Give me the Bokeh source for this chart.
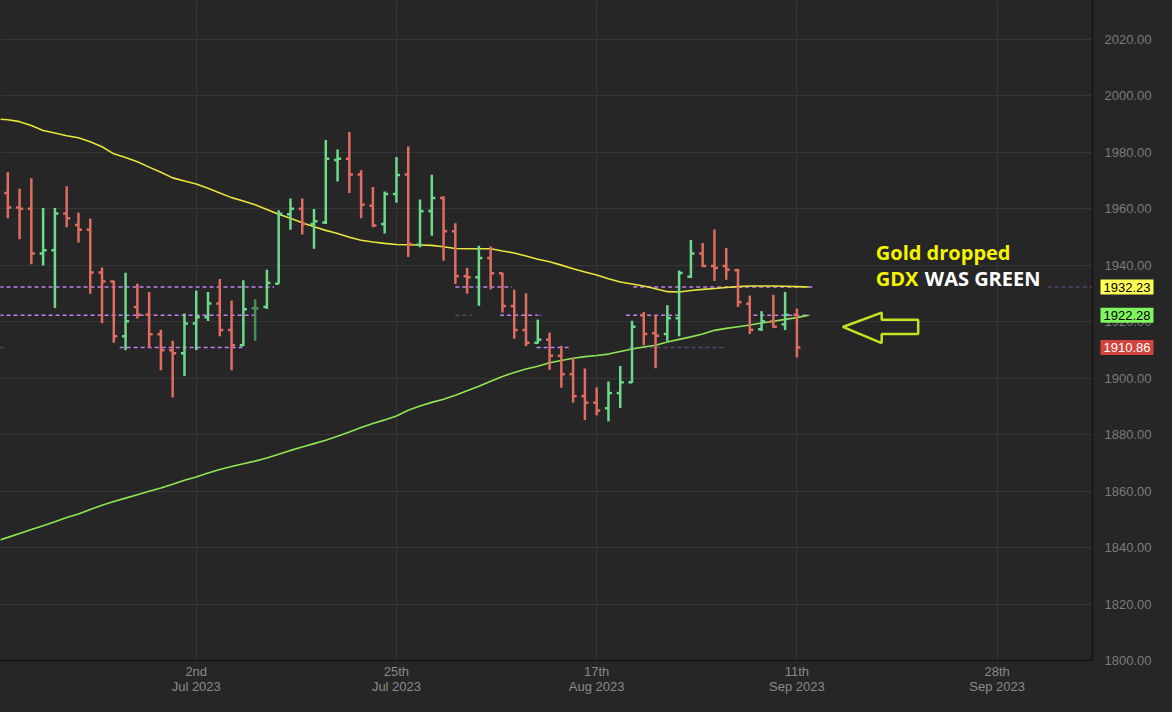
from bokeh.plotting import figure
from bokeh.layouts import row
from bokeh.models import (Range1d, FixedTicker, NumeralTickFormatter, Label,
                          ColumnDataSource, GlobalInlineStyleSheet)
from bokeh.embed import file_html
from bokeh.resources import INLINE

# ---------------- data ----------------
opens = [1965.5, 1960.4, 1960.0, 1944.1, 1945.3, 1958.3, 1954.2, 1952.5, 1937.4, 1934.2,
         1914.8, 1925.2, 1922.4, 1915.5, 1909.9, 1908.8, 1919.3, 1921.5, 1926.4, 1917.0,
         1911.6, 1924.7, 1925.2, 1933.4, 1958.0, 1960.0, 1954.6, 1955.1, 1977.2, 1977.7,
         1972.1, 1961.0, 1954.6, 1965.2, 1972.1, 1947.2, 1959.2, 1963.8, 1952.0, 1936.1,
         1935.7, 1942.5, 1937.1, 1925.5, 1917.0, 1912.5, 1913.6, 1907.9, 1901.4, 1893.6,
         1891.3, 1889.3, 1894.7, 1898.5, 1922.2, 1915.9, 1915.6, 1921.2, 1935.9, 1944.1,
         1939.7, 1939.7, 1938.2, 1926.3, 1917.3, 1920.1, 1919.0, 1922.4]
highs = [1972.9, 1967.0, 1970.8, 1960.2, 1960.2, 1967.9, 1958.5, 1956.5, 1939.2, 1934.5,
         1937.3, 1933.4, 1930.5, 1917.1, 1913.2, 1922.9, 1931.0, 1930.5, 1935.1, 1927.5,
         1934.6, 1927.9, 1938.4, 1959.4, 1963.6, 1963.6, 1959.9, 1984.3, 1980.9, 1987.1,
         1973.6, 1967.7, 1966.1, 1978.3, 1982.0, 1963.2, 1972.0, 1964.4, 1954.8, 1939.0,
         1946.9, 1946.6, 1937.3, 1931.3, 1930.0, 1920.7, 1916.1, 1911.4, 1907.1, 1903.4,
         1896.7, 1898.8, 1904.3, 1920.3, 1923.4, 1922.4, 1925.8, 1938.1, 1948.9, 1947.8,
         1952.6, 1946.1, 1938.7, 1929.2, 1923.7, 1929.5, 1930.5, 1924.6]
lows = [1956.6, 1949.2, 1940.3, 1939.9, 1924.8, 1953.4, 1948.0, 1929.9, 1919.4, 1912.5,
        1909.9, 1921.1, 1910.7, 1902.8, 1893.1, 1900.7, 1909.9, 1920.2, 1914.8, 1902.8,
        1911.4, 1913.2, 1924.5, 1933.4, 1952.5, 1950.8, 1945.8, 1954.6, 1969.6, 1965.5,
        1956.6, 1953.4, 1951.2, 1962.1, 1942.9, 1946.3, 1950.4, 1941.6, 1933.3, 1929.9,
        1925.6, 1931.4, 1923.2, 1913.9, 1911.3, 1912.2, 1902.9, 1896.6, 1891.3, 1885.1,
        1886.8, 1884.7, 1889.4, 1898.3, 1911.6, 1903.5, 1913.0, 1914.8, 1935.4, 1939.3,
        1934.4, 1934.8, 1925.2, 1915.6, 1916.7, 1917.8, 1917.0, 1907.3]
closes = [1960.4, 1960.0, 1944.1, 1945.3, 1958.3, 1956.6, 1952.5, 1937.4, 1934.2, 1914.8,
          1920.1, 1922.4, 1915.5, 1909.9, 1908.8, 1919.3, 1921.5, 1926.4, 1917.0, 1911.6,
          1924.4, 1924.7, 1933.7, 1958.2, 1960.0, 1954.6, 1955.5, 1977.7, 1977.7, 1972.1,
          1961.4, 1954.0, 1965.2, 1971.9, 1947.5, 1959.1, 1963.8, 1952.0, 1936.1, 1935.7,
          1942.5, 1937.1, 1925.5, 1917.0, 1912.5, 1913.6, 1907.9, 1901.4, 1893.6, 1891.3,
          1888.5, 1894.7, 1898.5, 1918.2, 1915.6, 1915.0, 1921.2, 1937.2, 1944.1, 1939.7,
          1939.0, 1938.4, 1926.9, 1917.1, 1920.1, 1918.2, 1922.4, 1910.86]

# moving averages, one value per bar starting one bar before the first visible bar
ma_yellow = [1991.7, 1991.5, 1990.8, 1989.4, 1987.7, 1986.8, 1985.8, 1985.1, 1983.7, 1981.9,
             1979.4, 1978.1, 1976.6, 1974.7, 1972.9, 1970.9, 1969.8, 1968.7, 1967.2, 1965.5,
             1963.9, 1962.7, 1961.4, 1959.7, 1958.0, 1956.6, 1955.0, 1953.6, 1952.3, 1951.2,
             1949.9, 1948.8, 1948.2, 1947.7, 1947.3, 1947.2, 1947.1, 1947.0, 1946.5, 1945.9,
             1945.8, 1945.8, 1945.8, 1945.0, 1944.3, 1943.2, 1942.1, 1941.2, 1940.0, 1938.7,
             1937.6, 1936.5, 1935.2, 1934.0, 1933.3, 1932.6, 1931.6, 1930.6, 1930.5, 1931.0,
             1931.4, 1931.7, 1932.1, 1932.4, 1932.6, 1932.6, 1932.6, 1932.5, 1932.4, 1932.23]
ma_green = [1842.3, 1843.6, 1845.0, 1846.4, 1847.7, 1849.1, 1850.6, 1851.9, 1853.5, 1855.0,
            1856.3, 1857.5, 1858.7, 1859.9, 1861.1, 1862.4, 1863.8, 1865.0, 1866.4, 1867.6,
            1868.7, 1869.7, 1870.6, 1871.7, 1873.0, 1874.4, 1875.6, 1876.8, 1878.0, 1879.4,
            1880.9, 1882.5, 1883.9, 1885.2, 1886.6, 1888.6, 1890.1, 1891.4, 1892.5, 1893.9,
            1895.5, 1897.1, 1898.9, 1900.6, 1902.0, 1903.2, 1904.2, 1905.4, 1906.2, 1907.0,
            1907.6, 1908.0, 1908.5, 1909.4, 1910.3, 1911.0, 1911.6, 1912.8, 1913.7, 1914.6,
            1915.6, 1916.9, 1917.6, 1918.2, 1918.8, 1919.5, 1920.1, 1920.8, 1921.4, 1922.28]

tick_positions = [16, 33, 50, 67, 84]
tick_labels = ["2nd\nJul 2023", "25th\nJul 2023", "17th\nAug 2023", "11th\nSep 2023", "28th\nSep 2023"]

# price levels shown on the right axis
tag_values = [1932.23, 1922.28, 1910.86]
tag_texts = ["1932.23", "1922.28", "1910.86"]

# dashed level segments (level, from bar, to bar, bright?)
seg_level = [1932.23, 1932.23, 1932.23, 1932.23,
             1922.28, 1922.28, 1922.28, 1922.28, 1922.28, 1922.28,
             1910.86, 1910.86, 1910.86, 1910.86]
seg_from = [-0.7, 38.0, 53.1, 88.3,
            -0.7, 38.0, 41.8, 45.0, 52.5, 63.3,
            -0.7, 9.5, 44.9, 52.7]
seg_to = [22.6, 42.8, 68.4, 92.2,
          21.3, 39.4, 45.0, 45.6, 57.1, 68.1,
          -0.4, 19.9, 47.7, 60.9]
seg_bright = [1, 1, 1, 0,
              1, 0, 1, 0, 1, 1,
              0, 1, 1, 0]

# annotation arrow outline (bar index, price)
arrow_x = [70.9, 74.2, 74.2, 77.3, 77.3, 74.2, 74.2, 70.9]
arrow_y = [1918.1, 1923.2, 1920.7, 1920.7, 1915.6, 1915.6, 1912.4, 1918.1]

# ---------------- styling ----------------
BG = "#262626"
GRID = "#353535"
RED = "#e06c62"
GREEN = "#6cd98c"
NEUTRAL = "#4d8a5c"
YELLOW_MA = "#e8e63a"
GREEN_MA = "#8fe655"
DASH_BRIGHT = "#c47ff2"
DASH_DIM = "#5a4270"

x_range = Range1d(-0.62, 92.1)
y_range = Range1d(1800, 2033.7)


def style_xaxis(ax, visible=True):
    ax.ticker = FixedTicker(ticks=tick_positions)
    ax.major_label_overrides = {pos: lab for pos, lab in zip(tick_positions, tick_labels)}
    ax.major_label_text_color = "#8a8a8a"
    ax.major_label_text_font = "Liberation Sans"
    ax.major_label_text_font_size = "13px"
    ax.major_label_text_line_height = 1.0
    ax.major_label_standoff = 3
    ax.major_tick_out = 0
    ax.major_tick_in = 0
    ax.major_tick_line_color = None
    ax.minor_tick_line_color = None
    ax.axis_line_color = "#141414" if visible else None
    ax.axis_line_width = 1.5
    if not visible:
        ax.major_label_text_alpha = 0


n = len(opens)
xs = list(range(n))
colors = [GREEN if c > o else (RED if c < o else NEUTRAL) for o, c in zip(opens, closes)]
half = 0.3
src = ColumnDataSource(dict(x=xs, xl=[x - half for x in xs], xr=[x + half for x in xs],
                            o=opens, h=highs, l=lows, c=closes, color=colors))

p = figure(width=1156, height=696, output_backend="svg", toolbar_location=None,
           x_range=x_range, y_range=y_range,
           y_axis_location="right", min_border_left=0, min_border_top=0,
           min_border_bottom=0, min_border_right=64,
           background_fill_color=BG, border_fill_color=BG, outline_line_color=None)
p.stylesheets = [GlobalInlineStyleSheet(css="body { background-color: #262626; }")]

# axes
yax = p.yaxis[0]
yax.ticker = FixedTicker(ticks=list(range(1800, 2040, 20)))
yax.formatter = NumeralTickFormatter(format="0.00")
yax.major_label_text_color = "#7b7b7b"
yax.major_label_text_font = "Liberation Sans"
yax.major_label_text_font_size = "13px"
yax.major_label_standoff = 12
yax.major_tick_out = 0
yax.major_tick_in = 0
yax.major_tick_line_color = None
yax.minor_tick_line_color = None
yax.axis_line_color = "#141414"
yax.axis_line_width = 1.5

style_xaxis(p.xaxis[0])

p.xgrid.grid_line_color = GRID
p.ygrid.grid_line_color = GRID

# dashed levels
seg_src = ColumnDataSource(dict(x0=seg_from, x1=seg_to, y=seg_level,
                                color=[DASH_BRIGHT if b else DASH_DIM for b in seg_bright]))
p.segment(x0="x0", y0="y", x1="x1", y1="y", source=seg_src, line_color="color",
          line_width=1.5, line_dash="4 3")

# moving averages
p.line(list(range(-1, -1 + len(ma_yellow))), ma_yellow, line_color=YELLOW_MA, line_width=1.6)
p.line(list(range(-1, -1 + len(ma_green))), ma_green, line_color=GREEN_MA, line_width=1.6)

# OHLC bars
p.segment(x0="x", y0="l", x1="x", y1="h", source=src, line_color="color", line_width=2.5)
p.segment(x0="xl", y0="o", x1="x", y1="o", source=src, line_color="color", line_width=2.5)
p.segment(x0="x", y0="c", x1="xr", y1="c", source=src, line_color="color", line_width=2.5)

# annotation
p.patch(arrow_x, arrow_y, fill_alpha=0, line_color="#c6e11e", line_width=2.5)
p.add_layout(Label(x=73.7, y=1944.5, text="Gold dropped", text_color="#f5f500",
                   text_font="Open Sans", text_font_style="bold",
                   text_font_size="20px", text_baseline="middle"))
p.add_layout(Label(x=73.7, y=1935.3, text="GDX", text_color="#f5f500",
                   text_font="Open Sans", text_font_style="bold",
                   text_font_size="20px", text_baseline="middle"))
p.add_layout(Label(x=73.7, y=1935.3, x_offset=49, text="WAS GREEN", text_color="#ffffff",
                   text_font="Open Sans", text_font_style="bold",
                   text_font_size="20px", text_baseline="middle"))

# price tags: a transparent strip laid over the right axis, sharing the price scale
tags = figure(width=64, height=696, output_backend="svg", toolbar_location=None,
              x_range=x_range, y_range=y_range, y_axis_location=None,
              min_border_left=0, min_border_top=0, min_border_bottom=0, min_border_right=0,
              background_fill_alpha=0, border_fill_alpha=0, outline_line_color=None,
              margin=(0, 0, 0, -64))
style_xaxis(tags.xaxis[0], visible=False)
tags.xgrid.visible = False
tags.ygrid.visible = False

tag_bg = ["#ffff55", "#80f55e", "#d0443c"]
tag_fg = ["#000000", "#000000", "#ffffff"]
for v, t, bg, fg in zip(tag_values, tag_texts, tag_bg, tag_fg):
    tags.add_layout(Label(x=-0.62, y=v, x_offset=8, text=t, text_color=fg,
                          text_font="Liberation Sans", text_font_size="13px",
                          text_baseline="middle", text_align="left",
                          background_fill_color=bg, padding=3))

layout = row(p, tags)
open("out.html", "w").write(file_html(layout, INLINE))
